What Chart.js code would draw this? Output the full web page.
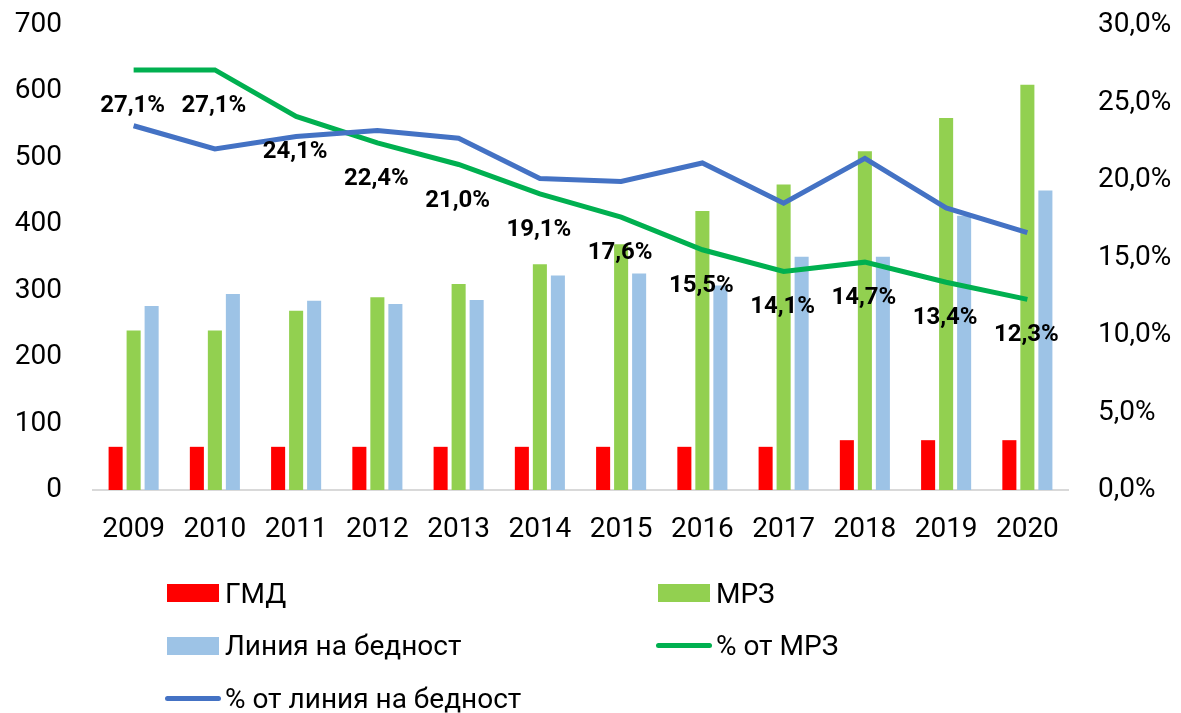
<!DOCTYPE html>
<html lang="bg">
<head>
    <meta charset="UTF-8">
    <title>ГМД, МРЗ и линия на бедност</title>
    <style>
        body { margin: 0; background: #fff; font-family: Roboto, sans-serif; }
        #wrap { position: relative; width: 1181px; height: 713px; }
        #legend { position: absolute; left: 167px; top: 567px; display: grid;
                  grid-template-columns: 491px 300px; grid-auto-rows: 52.5px; }
        .item { display: flex; align-items: center; font-size: 28px; color: #000; }
        .box { width: 52px; height: 18px; margin-right: 6px; }
        .line { width: 56px; height: 5px; border-radius: 3px; margin-right: 4px; margin-left: -2px; }
    </style>
</head>
<body>
    <div id="wrap">
        <canvas id="chart" width="1181" height="713"></canvas>
        <div id="legend"></div>
    </div>

    <script src="https://cdn.jsdelivr.net/npm/chart.js@4.4.1/dist/chart.umd.min.js"></script>
    <script>
        const years = ['2009', '2010', '2011', '2012', '2013', '2014', '2015', '2016', '2017', '2018', '2019', '2020'];
        const gmd = [65, 65, 65, 65, 65, 65, 65, 65, 65, 75, 75, 75];
        const mrz = [240, 240, 270, 290, 310, 340, 370, 420, 460, 510, 560, 610];
        const povertyLine = [277, 295, 285, 280, 286, 323, 326, 308, 351, 351, 413, 451];
        const pctOfMrz = [27.1, 27.1, 24.1, 22.4, 21.0, 19.1, 17.6, 15.5, 14.1, 14.7, 13.4, 12.3];
        const pctOfPoverty = [23.5, 22.0, 22.8, 23.2, 22.7, 20.1, 19.9, 21.1, 18.5, 21.4, 18.2, 16.6];

        const fmtPct = v => v.toFixed(1).replace('.', ',') + '%';
        const tickFont = { family: 'Roboto', size: 28 };

        // labels under the "% от МРЗ" line
        const pointLabels = {
            id: 'pointLabels',
            afterDatasetsDraw(chart) {
                const ctx = chart.ctx;
                chart.data.datasets.forEach((ds, i) => {
                    if (!ds.showLabels) return;
                    const meta = chart.getDatasetMeta(i);
                    ctx.save();
                    ctx.font = 'bold 24px Roboto';
                    ctx.fillStyle = '#000';
                    ctx.textAlign = 'center';
                    ctx.textBaseline = 'middle';
                    meta.data.forEach((pt, j) => {
                        ctx.fillText(fmtPct(ds.data[j]), pt.x - 1, pt.y + 36);
                    });
                    ctx.restore();
                });
            }
        };

        // fixed axis widths, no extra top/bottom padding from tick labels
        const fixWidth = w => s => { s.width = w; s.paddingTop = 0; s.paddingBottom = 0; };

        const chart = new Chart(document.getElementById('chart'), {
            type: 'bar',
            data: {
                labels: years,
                datasets: [
                    { label: 'ГМД', data: gmd, backgroundColor: '#FF0000', order: 3 },
                    { label: 'МРЗ', data: mrz, backgroundColor: '#92D050', order: 3 },
                    { label: 'Линия на бедност', data: povertyLine, backgroundColor: '#9DC3E6', order: 3 },
                    { label: '% от МРЗ', type: 'line', data: pctOfMrz, yAxisID: 'y1', borderColor: '#00B050',
                      borderWidth: 5, pointRadius: 0, tension: 0, order: 2, showLabels: true },
                    { label: '% от линия на бедност', type: 'line', data: pctOfPoverty, yAxisID: 'y1',
                      borderColor: '#4472C4', borderWidth: 5, pointRadius: 0, tension: 0, order: 1 }
                ]
            },
            options: {
                responsive: false,
                animation: false,
                categoryPercentage: 0.665,
                barPercentage: 0.78,
                layout: { padding: { top: 25, bottom: 163, left: 0, right: 0 } },
                plugins: { legend: { display: false }, tooltip: { enabled: false } },
                scales: {
                    x: {
                        grid: { display: false, drawTicks: false },
                        border: { color: '#D9D9D9', width: 2 },
                        ticks: { font: tickFont, color: '#000', padding: 23, maxRotation: 0 },
                        afterFit: s => { s.height = 60; }
                    },
                    y: {
                        min: 0, max: 700,
                        grid: { display: false, drawTicks: false },
                        border: { display: false },
                        ticks: { stepSize: 100, font: tickFont, color: '#000', padding: 31 },
                        afterFit: fixWidth(93)
                    },
                    y1: {
                        position: 'right',
                        min: 0, max: 30,
                        grid: { display: false, drawTicks: false },
                        border: { display: false },
                        ticks: { stepSize: 5, font: tickFont, color: '#000', padding: 30, callback: v => fmtPct(v) },
                        afterFit: fixWidth(113)
                    }
                }
            },
            plugins: [pointLabels]
        });

        // two-column legend like the original
        const legend = document.getElementById('legend');
        chart.data.datasets.forEach(ds => {
            const item = document.createElement('div');
            item.className = 'item';
            const mark = document.createElement('span');
            if (ds.type === 'line') {
                mark.className = 'line';
                mark.style.background = ds.borderColor;
            } else {
                mark.className = 'box';
                mark.style.background = ds.backgroundColor;
            }
            item.appendChild(mark);
            item.appendChild(document.createTextNode(ds.label));
            legend.appendChild(item);
        });
    </script>
</body>
</html>
